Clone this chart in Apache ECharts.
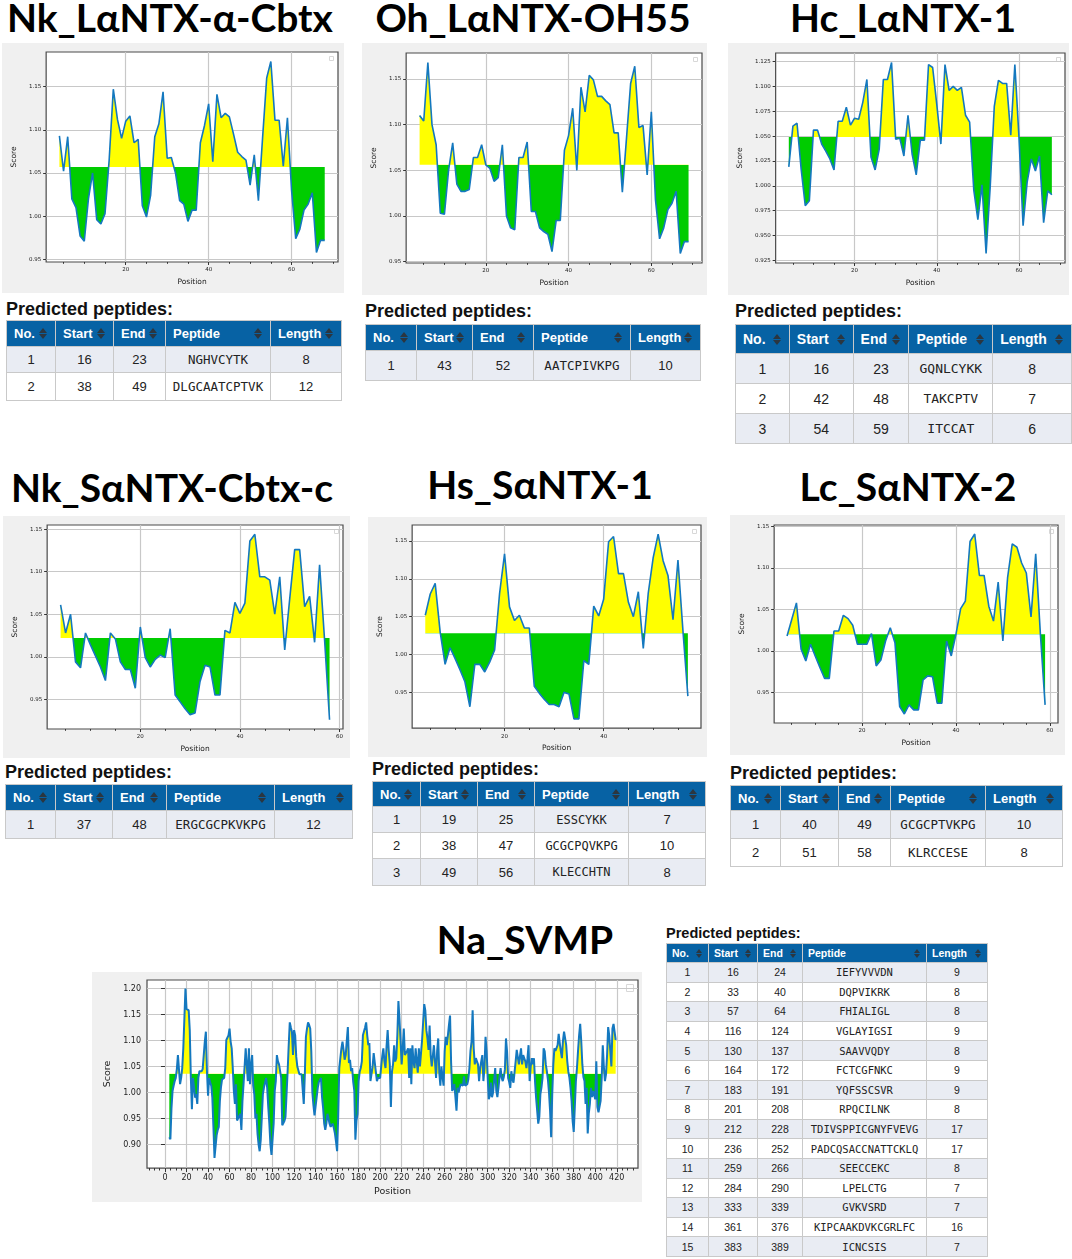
<!DOCTYPE html>
<html>
<head>
<meta charset="utf-8">
<script src="https://cdn.jsdelivr.net/npm/echarts@6.0.0/dist/echarts.min.js"></script>
<style>
  body { margin: 0; background: #fff; }
  #page { position: relative; width: 1072px; height: 1259px; overflow: hidden; }
  .box { position: absolute; }
  .title { position: absolute; width: 440px; text-align: center; font-family: Lato, 'Noto Sans', sans-serif;
           font-weight: bold; color: #000; line-height: 1; white-space: nowrap; font-size: 39px; }
  .ptitle { position: absolute; font-family: 'Liberation Sans', Arial, sans-serif; font-weight: bold;
            color: #111; line-height: 1; white-space: nowrap; }
  table.pep { position: absolute; border-collapse: collapse; table-layout: fixed;
              font-family: 'Liberation Sans', Arial, sans-serif; color: #222; }
  table.pep th { background: #0762a4; color: #fff; font-weight: bold; padding: 0; border: 1px solid #c9c9c9; }
  table.pep th .th { display: flex; justify-content: space-between; align-items: center; }
  table.pep td { text-align: center; padding: 0; border: 1px solid #c9c9c9; }
  table.pep tr.odd td { background: #e9ecf3; }
  table.pep tr.even td { background: #fff; }
  table.pep td.seq { font-family: 'DejaVu Sans Mono', monospace; }
  .sort { display: inline-block; position: relative; width: 9px; height: 11px; flex: none; }
  .sort:before, .sort:after { content: ''; position: absolute; left: 0; border-left: 4.5px solid transparent;
                              border-right: 4.5px solid transparent; }
  .sort:before { top: 0; border-bottom: 5px solid #2b3640; }
  .sort:after { top: 6px; border-top: 5px solid #2b3640; }
  .sm .sort { width: 7px; height: 9px; }
  .sm .sort:before, .sm .sort:after { border-left-width: 3.5px; border-right-width: 3.5px; }
  .sm .sort:before { border-bottom-width: 4px; }
  .sm .sort:after { top: 5px; border-top-width: 4px; }
</style>
</head>
<body>
<div id="page">
  <div class="title" style="left:-50px;top:-2px">Nk_LαNTX-α-Cbtx</div>
  <div class="title" style="left:313px;top:-2px">Oh_LαNTX-OH55</div>
  <div class="title" style="left:683px;top:-2px">Hc_LαNTX-1</div>
  <div class="title" style="left:-48px;top:468px">Nk_SαNTX-Cbtx-c</div>
  <div class="title" style="left:320px;top:465px">Hs_SαNTX-1</div>
  <div class="title" style="left:688px;top:467px">Lc_SαNTX-2</div>
  <div class="title" style="left:305px;top:920px">Na_SVMP</div>

  <div id="c1" class="box" style="left:2px;top:43px;width:342px;height:250px"></div>
  <div id="c2" class="box" style="left:362px;top:43px;width:345px;height:252px"></div>
  <div id="c3" class="box" style="left:728px;top:43px;width:341px;height:252px"></div>
  <div id="c4" class="box" style="left:3px;top:516px;width:347px;height:242px"></div>
  <div id="c5" class="box" style="left:368px;top:517px;width:339px;height:240px"></div>
  <div id="c6" class="box" style="left:730px;top:515px;width:335px;height:240px"></div>
  <div id="c7" class="box" style="left:92px;top:972px;width:550px;height:230px"></div>
</div>
<script>
// ---- hydrophobicity / score profiles (one value per residue position, starting at *Start) ----
var nkLaStart = 4;
var nkLaThreshold = 1.057;
var nkLaScore = [1.093,1.052,1.092,1.020,1.010,0.977,0.971,1.020,1.050,0.996,0.991,1.003,1.065,1.147,1.112,1.090,
  1.110,1.116,1.085,1.089,1.012,0.999,1.024,1.092,1.107,1.144,1.067,1.068,1.050,1.018,1.014,0.994,1.007,1.007,
  1.085,1.105,1.130,1.063,1.141,1.114,1.119,1.115,1.095,1.074,1.069,1.065,1.036,1.071,1.018,1.090,1.160,1.179,
  1.111,1.111,1.058,1.114,1.030,0.974,0.985,1.007,1.014,1.027,0.958,0.972,0.972];

var ohLaStart = 4;
var ohLaThreshold = 1.056;
var ohLaScore = [1.110,1.104,1.168,1.100,1.078,1.003,1.002,1.050,1.080,1.035,1.027,1.027,1.029,1.064,1.064,1.078,
  1.056,1.052,1.038,1.042,1.078,1.000,0.987,0.985,1.064,1.064,1.081,1.005,1.005,0.987,0.983,0.980,0.961,0.995,
  0.995,1.072,1.088,1.118,1.050,1.141,1.114,1.154,1.149,1.131,1.131,1.126,1.122,1.091,1.091,1.026,1.085,1.145,
  1.164,1.097,1.099,1.045,1.114,1.018,0.975,0.987,1.007,1.014,1.027,0.959,0.972,0.972];

var hcLaStart = 4;
var hcLaThreshold = 1.049;
var hcLaScore = [1.019,1.060,1.063,1.017,0.980,0.985,1.056,1.056,1.042,1.035,1.027,1.016,1.065,1.065,1.079,1.061,
  1.068,1.067,1.084,1.107,1.029,1.016,1.037,1.107,1.107,1.124,1.047,1.048,1.030,1.071,1.032,1.011,1.046,1.046,
  1.122,1.119,1.082,1.042,1.122,1.096,1.100,1.096,1.099,1.071,1.064,0.996,0.966,1.001,0.932,0.999,1.080,1.106,
  1.103,1.103,1.051,1.122,1.049,0.960,1.004,1.027,1.015,1.030,0.963,0.995,0.991];

var nkSaStart = 4;
var nkSaThreshold = 1.022;
var nkSaScore = [1.061,1.028,1.050,0.994,0.987,1.028,1.014,1.001,0.988,0.972,1.028,1.021,0.994,0.985,0.985,0.963,
  1.035,0.999,0.988,0.997,1.002,0.999,1.033,0.955,0.947,0.939,0.932,0.934,0.971,0.990,0.988,0.955,0.955,1.031,
  1.028,1.064,1.051,1.063,1.136,1.144,1.094,1.094,1.090,1.050,1.094,1.008,1.068,1.126,1.126,1.059,1.071,1.017,
  1.108,1.020,0.926];

var hsSaStart = 4;
var hsSaThreshold = 1.028;
var hsSaScore = [1.052,1.080,1.094,1.030,0.987,1.009,0.995,0.980,0.964,0.931,0.987,0.987,0.977,0.990,1.006,1.081,
  1.133,1.063,1.045,1.052,1.035,1.035,0.958,0.949,0.941,0.934,0.934,0.931,0.950,0.948,0.915,0.915,0.992,0.987,
  1.064,1.051,1.073,1.149,1.156,1.107,1.107,1.069,1.050,1.083,1.008,1.081,1.128,1.159,1.124,1.104,1.046,1.125,
  1.032,0.945];

var lcSaStart = 4;
var lcSaThreshold = 1.020;
var lcSaScore = [1.018,1.038,1.058,1.002,0.988,1.008,0.994,0.980,0.967,0.967,1.024,1.024,1.043,1.039,1.031,1.008,
  1.008,1.008,1.021,0.982,0.989,1.012,1.028,1.010,0.933,0.924,0.935,0.929,0.929,0.965,0.970,0.969,0.937,0.937,
  1.012,0.994,1.020,1.051,1.060,1.132,1.141,1.091,1.091,1.054,1.036,1.083,1.012,1.088,1.129,1.125,1.106,1.094,
  1.041,1.117,1.020,0.935];

var svmpStart = 4;
var svmpThreshold = 1.036;
var svmpScore = [
  0.914,0.910,0.970,1.003,1.013,1.022,1.028,1.045,1.072,1.072,
  1.016,1.028,1.047,1.085,1.142,1.200,1.161,1.158,1.158,1.120,
  1.030,0.968,1.028,1.010,0.990,0.997,0.978,1.028,1.041,1.041,
  1.041,1.045,1.047,1.098,1.117,1.041,0.994,1.028,1.019,1.013,
  0.990,0.934,0.874,0.871,0.918,0.928,0.934,0.984,1.010,1.025,
  1.022,1.028,1.047,1.101,1.098,1.110,1.123,1.098,1.085,1.047,
  1.003,0.978,1.016,0.946,0.946,0.955,0.959,0.928,0.984,1.016,
  1.050,1.085,1.085,1.022,1.085,1.016,1.054,1.072,1.013,0.997,
  0.950,0.959,0.921,0.900,0.887,0.909,0.953,0.997,1.010,1.019,
  1.028,1.009,0.972,0.940,0.900,0.880,0.883,0.940,1.003,1.022,
  1.072,1.060,1.054,1.057,1.028,0.937,0.937,0.945,0.953,0.997,
  1.041,1.091,1.135,1.125,1.117,1.072,1.120,1.110,1.069,1.050,
  1.047,1.035,1.035,1.035,1.035,0.978,1.035,1.107,1.123,1.135,
  1.130,1.123,1.079,1.000,0.975,0.956,0.953,0.991,1.009,1.020,
  1.022,1.028,0.991,0.970,0.940,0.928,0.940,0.959,0.950,0.940,
  0.934,0.934,0.940,0.931,0.921,0.905,0.887,0.953,1.047,1.066,
  1.085,1.098,1.082,1.063,1.072,1.100,1.126,1.057,1.063,1.041,
  1.047,1.020,1.003,0.909,0.946,0.959,1.022,1.040,1.047,1.060,
  1.110,1.113,1.125,1.135,1.110,1.091,1.095,1.022,1.019,1.050,
  1.076,1.076,1.040,1.022,1.028,1.025,1.028,1.050,1.070,1.085,
  1.060,1.047,1.090,1.120,1.080,1.054,0.972,1.040,1.054,1.091,
  1.060,1.066,1.110,1.176,1.140,1.100,1.054,1.085,1.123,1.072,
  1.076,1.080,1.085,1.028,1.085,1.016,1.091,1.060,1.047,1.085,
  1.085,1.038,1.085,1.050,1.047,1.101,1.101,1.170,1.158,1.120,
  1.104,1.082,1.129,1.072,1.050,1.047,1.091,1.060,1.028,1.080,
  1.104,1.038,1.013,1.050,1.030,1.013,1.079,1.107,1.091,1.110,
  1.130,1.148,1.057,1.003,1.010,1.016,0.991,0.965,1.009,1.000,
  1.010,1.016,1.019,1.013,1.031,1.013,1.015,1.016,1.025,1.047,
  1.080,1.098,1.158,1.085,1.054,1.066,1.060,1.054,1.022,1.047,
  1.060,1.072,1.022,1.047,1.107,1.079,1.030,0.987,0.994,1.019,
  0.991,1.000,1.003,1.047,1.003,0.991,1.009,1.030,1.047,1.028,
  1.022,1.030,1.044,1.104,1.079,1.028,1.020,1.009,1.041,1.025,
  1.019,1.020,1.060,1.082,1.085,1.054,1.070,1.085,1.054,1.072,
  1.072,1.060,1.047,1.066,1.091,1.022,1.050,1.066,1.054,1.066,
  1.022,0.990,0.965,0.940,0.953,0.997,1.010,1.028,1.085,1.079,
  1.054,1.041,1.025,1.000,0.965,0.914,0.997,1.054,1.085,1.080,
  1.082,1.091,1.113,1.095,1.079,1.066,1.100,1.117,1.120,1.091,
  1.060,1.040,1.028,1.009,0.984,0.945,0.924,0.972,1.022,1.047,
  1.080,1.110,1.132,1.098,1.054,1.030,1.022,0.978,1.009,0.921,
  0.960,0.978,1.009,0.991,1.003,0.995,0.987,1.060,0.972,0.962,
  0.959,0.984,1.028,1.091,1.050,1.022,1.035,1.072,1.126,1.110,
  1.080,1.050,1.123,1.132,1.135,1.101];

// ---- tick labels ----
var smallXTicks = [20, 40, 60];
var scoreTicks5 = [0.95, 1.00, 1.05, 1.10, 1.15];
var hcScoreTicks = [0.925, 0.950, 0.975, 1.000, 1.025, 1.050, 1.075, 1.100, 1.125];
var svmpXTicks = [0,20,40,60,80,100,120,140,160,180,200,220,240,260,280,300,320,340,360,380,400,420];
var svmpScoreTicks = [0.90, 0.95, 1.00, 1.05, 1.10, 1.15, 1.20];

// ---- predicted peptides: No., Start, End, Peptide, Length ----
var tableHeads = ['No.', 'Start', 'End', 'Peptide', 'Length'];
var nkLaPeptides = [[1,16,23,'NGHVCYTK',8],[2,38,49,'DLGCAATCPTVK',12]];
var ohLaPeptides = [[1,43,52,'AATCPIVKPG',10]];
var hcLaPeptides = [[1,16,23,'GQNLCYKK',8],[2,42,48,'TAKCPTV',7],[3,54,59,'ITCCAT',6]];
var nkSaPeptides = [[1,37,48,'ERGCGCPKVKPG',12]];
var hsSaPeptides = [[1,19,25,'ESSCYKK',7],[2,38,47,'GCGCPQVKPG',10],[3,49,56,'KLECCHTN',8]];
var lcSaPeptides = [[1,40,49,'GCGCPTVKPG',10],[2,51,58,'KLRCCESE',8]];
var svmpPeptides = [[1,16,24,'IEFYVVVDN',9],[2,33,40,'DQPVIKRK',8],[3,57,64,'FHIALIGL',8],
  [4,116,124,'VGLAYIGSI',9],[5,130,137,'SAAVVQDY',8],[6,164,172,'FCTCGFNKC',9],[7,183,191,'YQFSSCSVR',9],
  [8,201,208,'RPQCILNK',8],[9,212,228,'TDIVSPPICGNYFVEVG',17],[10,236,252,'PADCQSACCNATTCKLQ',17],
  [11,259,266,'SEECCEKC',8],[12,284,290,'LPELCTG',7],[13,333,339,'GVKVSRD',7],
  [14,361,376,'KIPCAAKDVKCGRLFC',16],[15,383,389,'ICNCSIS',7]];

// matplotlib-like autoscale: 5% padding on both ends
function padRange(lo, hi) {
  var d = (hi - lo) * 0.05;
  return [lo - d, hi + d];
}

function drawProfile(cfg) {
  var chart = echarts.init(document.getElementById(cfg.id));
  var pts = cfg.score.map(function (v, i) { return [cfg.start + i, v]; });
  var xr = padRange(cfg.start, cfg.start + cfg.score.length - 1);
  var yr = padRange(Math.min.apply(null, cfg.score), Math.max.apply(null, cfg.score));
  var minor = [];
  for (var t = Math.ceil(xr[0] / 5) * 5; t <= xr[1]; t += 5) {
    if (cfg.xTicks.indexOf(t) < 0) minor.push(t);
  }
  var fs = cfg.tickFont;
  chart.setOption({
    animation: false,
    backgroundColor: '#f0f0f0',
    grid: { left: cfg.grid[0], top: cfg.grid[1], right: cfg.grid[2], bottom: cfg.grid[3],
            show: true, backgroundColor: '#fff', borderColor: '#4a4a4a', borderWidth: 1.2 },
    xAxis: [{
      type: 'value', min: xr[0], max: xr[1],
      name: 'Position', nameLocation: 'middle', nameGap: cfg.nameGap[0],
      nameTextStyle: { fontFamily: 'DejaVu Sans', fontSize: cfg.nameFont, color: '#222' },
      axisLine: { show: false },
      axisTick: { customValues: cfg.xTicks, length: cfg.tickLen, lineStyle: { color: '#333' } },
      axisLabel: { customValues: cfg.xTicks, fontFamily: 'DejaVu Sans', fontSize: fs, color: '#222', margin: cfg.tickLen + 2 },
      splitLine: { show: true, lineStyle: { color: '#c8c8c8', width: 1.2 } }
    }, {
      type: 'value', min: xr[0], max: xr[1], position: 'bottom',
      axisLine: { show: false }, axisLabel: { show: false }, splitLine: { show: false },
      axisTick: { customValues: minor, length: cfg.tickLen * 0.6, lineStyle: { color: '#333' } }
    }],
    yAxis: {
      type: 'value', min: yr[0], max: yr[1],
      name: 'Score', nameLocation: 'middle', nameGap: cfg.nameGap[1],
      nameTextStyle: { fontFamily: 'DejaVu Sans', fontSize: cfg.nameFont, color: '#222' },
      axisLine: { show: false },
      axisTick: { customValues: cfg.yTicks, length: cfg.tickLen, lineStyle: { color: '#333' } },
      axisLabel: { customValues: cfg.yTicks, fontFamily: 'DejaVu Sans', fontSize: fs, color: '#222',
                   margin: cfg.tickLen + 2,
                   formatter: function (v) { return v.toFixed(cfg.yDec); } },
      splitLine: { show: true, lineStyle: { color: '#c8c8c8', width: 1.2 } }
    },
    visualMap: {
      show: false, type: 'piecewise', dimension: 1, seriesIndex: 0,
      pieces: [
        { gte: 0, lt: cfg.threshold, color: '#00cc00' },
        { gte: cfg.threshold, lte: 2, color: '#ffff00' }
      ]
    },
    graphic: [{
      type: 'rect', right: cfg.grid[2] + 4, top: cfg.grid[1] + 4, shape: { width: cfg.legendBox, height: cfg.legendBox },
      style: { fill: '#fff', stroke: '#d8d8d8', lineWidth: 1 }
    }],
    series: [{
      type: 'line', data: pts, symbol: 'none', silent: true,
      lineStyle: { opacity: 0, width: 0 },
      areaStyle: { origin: cfg.threshold, opacity: 1 }
    }, {
      type: 'line', data: pts, symbol: 'none', silent: true, z: 3,
      lineStyle: { color: '#1478bf', width: cfg.lineWidth }
    }]
  });
}

var small = { tickFont: 5.5, nameFont: 7.5, tickLen: 3, lineWidth: 1.6, legendBox: 4, xTicks: smallXTicks, yDec: 2 };
function withSmall(o) { var r = {}; var k; for (k in small) r[k] = small[k]; for (k in o) r[k] = o[k]; return r; }

drawProfile(withSmall({ id: 'c1', score: nkLaScore, start: nkLaStart, threshold: nkLaThreshold,
  yTicks: scoreTicks5, grid: [33, 9, 6, 31], nameGap: [14, 18] }));
drawProfile(withSmall({ id: 'c2', score: ohLaScore, start: ohLaStart, threshold: ohLaThreshold,
  yTicks: scoreTicks5, grid: [35, 10, 5, 32], nameGap: [14, 19] }));
drawProfile(withSmall({ id: 'c3', score: hcLaScore, start: hcLaStart, threshold: hcLaThreshold,
  yTicks: hcScoreTicks, yDec: 3, grid: [38, 10, 4, 32], nameGap: [15, 22] }));
drawProfile(withSmall({ id: 'c4', score: nkSaScore, start: nkSaStart, threshold: nkSaThreshold,
  yTicks: scoreTicks5, grid: [35, 9, 7, 21], nameGap: [16, 19] }));
drawProfile(withSmall({ id: 'c5', score: hsSaScore, start: hsSaStart, threshold: hsSaThreshold,
  yTicks: scoreTicks5, grid: [33, 8, 6, 26], nameGap: [14, 18] }));
drawProfile(withSmall({ id: 'c6', score: lcSaScore, start: lcSaStart, threshold: lcSaThreshold,
  yTicks: scoreTicks5, grid: [32, 10, 7, 32], nameGap: [14, 19] }));
drawProfile({ id: 'c7', score: svmpScore, start: svmpStart, threshold: svmpThreshold,
  xTicks: svmpXTicks, yTicks: svmpScoreTicks, yDec: 2, grid: [55, 8, 4, 30], nameGap: [12, 33],
  tickFont: 8, nameFont: 9.5, tickLen: 4, lineWidth: 2, legendBox: 7 });

// ---- peptide tables ----
function drawTable(rows, t) {
  var page = document.getElementById('page');
  var cap = document.createElement('div');
  cap.className = 'ptitle';
  cap.style.left = t.left + 'px';
  cap.style.top = t.capTop + 'px';
  cap.style.fontSize = t.capFont + 'px';
  cap.textContent = 'Predicted peptides:';
  page.appendChild(cap);

  var tb = document.createElement('table');
  tb.className = 'pep' + (t.small ? ' sm' : '');
  tb.style.left = t.left + 'px';
  tb.style.top = t.top + 'px';
  tb.style.fontSize = t.font + 'px';
  var html = '<colgroup>' + t.cols.map(function (w) { return '<col style="width:' + w + 'px">'; }).join('') + '</colgroup>';
  html += '<tr style="height:' + t.headH + 'px">' + tableHeads.map(function (h) {
    return '<th><div class="th" style="padding:0 ' + t.pad + 'px"><span>' + h + '</span><i class="sort"></i></div></th>';
  }).join('') + '</tr>';
  rows.forEach(function (r, i) {
    var h = t.rowH[i] || t.rowH[t.rowH.length - 1];
    html += '<tr class="' + (i % 2 ? 'even' : 'odd') + '" style="height:' + h + 'px">' + r.map(function (c, j) {
      return '<td' + (j === 3 ? ' class="seq" style="font-size:' + t.seqFont + 'px"' : '') + '>' + c + '</td>';
    }).join('') + '</tr>';
  });
  tb.innerHTML = html;
  page.appendChild(tb);
}

drawTable(nkLaPeptides, { left: 6, capTop: 300, capFont: 18, top: 320, cols: [49, 58, 52, 105, 71], headH: 26, rowH: [26, 28], font: 13, seqFont: 12.5, pad: 7 });
drawTable(ohLaPeptides, { left: 365, capTop: 302, capFont: 18, top: 324, cols: [51, 56, 61, 97, 70], headH: 26, rowH: [30], font: 13, seqFont: 12.5, pad: 7 });
drawTable(hcLaPeptides, { left: 735, capTop: 302, capFont: 18, top: 324, cols: [54, 64, 56, 84, 79], headH: 29, rowH: [30, 30, 30], font: 14, seqFont: 13, pad: 7 });
drawTable(nkSaPeptides, { left: 5, capTop: 763, capFont: 18, top: 784, cols: [50, 57, 54, 108, 78], headH: 26, rowH: [28], font: 13, seqFont: 12.5, pad: 7 });
drawTable(hsSaPeptides, { left: 372, capTop: 760, capFont: 18, top: 781, cols: [48, 57, 57, 94, 77], headH: 25, rowH: [26, 26, 27], font: 13, seqFont: 12, pad: 7 });
drawTable(lcSaPeptides, { left: 730, capTop: 764, capFont: 18, top: 785, cols: [50, 58, 52, 95, 77], headH: 25, rowH: [28, 28], font: 13, seqFont: 12.5, pad: 7 });
drawTable(svmpPeptides, { left: 666, capTop: 926, capFont: 14.5, top: 943, cols: [42, 49, 45, 124, 61], headH: 19, rowH: [19.6], font: 10.5, seqFont: 10.5, pad: 5, small: true });
</script>
</body>
</html>
